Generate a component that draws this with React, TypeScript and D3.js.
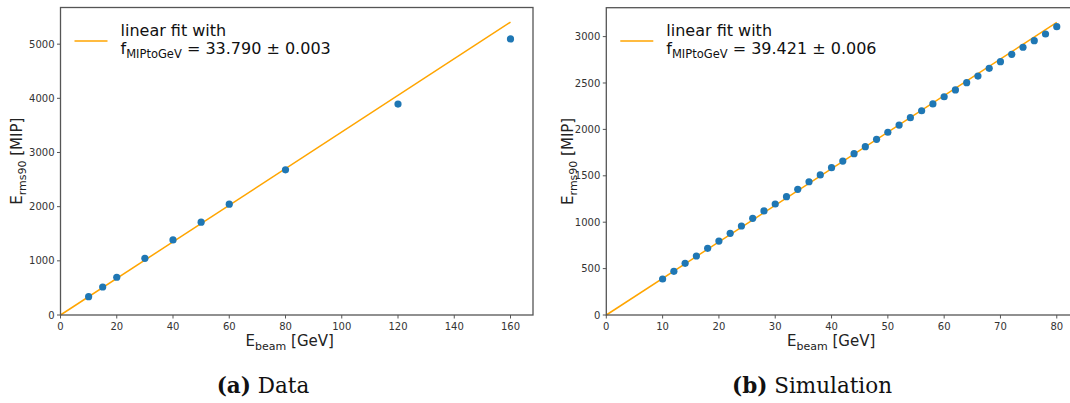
import React from "react";
import * as d3 from "d3";

const dataE = [10, 15, 20, 30, 40, 50, 60, 80, 120, 160];
const dataMIP = [338, 517, 697, 1046, 1386, 1713, 2046, 2680, 3894, 5096];
const dataSlope = 33.79;
const dataXTicks = [0, 20, 40, 60, 80, 100, 120, 140, 160];
const dataYTicks = [0, 1000, 2000, 3000, 4000, 5000];

const simE = [10, 12, 14, 16, 18, 20, 22, 24, 26, 28, 30, 32, 34, 36, 38, 40, 42, 44, 46, 48, 50, 52, 54, 56, 58, 60, 62, 64, 66, 68, 70, 72, 74, 76, 78, 80];
const simMIP = [388, 471, 557, 636, 718, 797, 880, 959, 1042, 1121, 1196, 1275, 1354, 1436, 1509, 1587, 1659, 1738, 1814, 1893, 1969, 2047, 2126, 2201, 2274, 2352, 2425, 2503, 2575, 2658, 2730, 2809, 2885, 2956, 3028, 3107];
const simSlope = 39.421;
const simXTicks = [0, 10, 20, 30, 40, 50, 60, 70, 80];
const simYTicks = [0, 500, 1000, 1500, 2000, 2500, 3000];

const FONT = "'DejaVu Sans', sans-serif";

type PanelProps = {
  left: number; right: number; top: number; bottom: number;
  xs: number[]; ys: number[]; slope: number; xMax: number;
  xTicks: number[]; yTicks: number[]; fitText: string;
  yLabelX: number; caption: string; captionBold: string; captionX: number;
};

function Panel(p: PanelProps) {
  const fitMax = p.slope * p.xs[p.xs.length - 1];
  const x = d3.scaleLinear().domain([0, p.xMax * 1.05]).range([p.left, p.right]);
  const y = d3.scaleLinear().domain([0, fitMax * 1.05]).range([p.bottom, p.top]);
  const line = d3.line<number>().x((d) => x(d)).y((d) => y(d * p.slope));
  const cy = (p.top + p.bottom) / 2;
  const spine = "#555";
  return (
    <g>
      <path d={line([0, p.xs[p.xs.length - 1]]) || ""} stroke="#ffa500" strokeWidth={1.5} fill="none" />
      {p.xs.map((v, i) => (
        <circle key={i} cx={x(v)} cy={y(p.ys[i])} r={3.6} fill="#1f77b4" />
      ))}
      <rect x={p.left} y={p.top} width={p.right - p.left} height={p.bottom - p.top} fill="none" stroke={spine} strokeWidth={1.3} />
      {p.xTicks.map((t) => (
        <g key={"x" + t}>
          <line x1={x(t)} x2={x(t)} y1={p.bottom} y2={p.bottom + 3.5} stroke={spine} strokeWidth={1} />
          <text x={x(t)} y={p.bottom + 15} fontSize={10} fill="#333" textAnchor="middle" fontFamily={FONT}>{t}</text>
        </g>
      ))}
      {p.yTicks.map((t) => (
        <g key={"y" + t}>
          <line x1={p.left - 3.5} x2={p.left} y1={y(t)} y2={y(t)} stroke={spine} strokeWidth={1} />
          <text x={p.left - 6} y={y(t) + 3.6} fontSize={10} fill="#333" textAnchor="end" fontFamily={FONT}>{t}</text>
        </g>
      ))}
      <text x={(p.left + Math.min(p.right, 1070)) / 2 - 7} y={346} fontSize={15} fill="#222" textAnchor="middle" fontFamily={FONT}>
        E<tspan fontSize={11} dy={4}>beam</tspan><tspan dy={-4}> [GeV]</tspan>
      </text>
      <text transform={`translate(${p.yLabelX},${cy}) rotate(-90)`} fontSize={15} fill="#222" textAnchor="middle" fontFamily={FONT}>
        E<tspan fontSize={11} dy={4}>rms90</tspan><tspan dy={-4}> [MIP]</tspan>
      </text>
      <line x1={p.left + 14} x2={p.left + 47} y1={41} y2={41} stroke="#ffa500" strokeWidth={1.5} />
      <text x={p.left + 60} y={36} fontSize={16} fill="#111" fontFamily={FONT}>linear fit with</text>
      <text x={p.left + 60} y={54} fontSize={16} fill="#111" fontFamily={FONT}>
        f<tspan fontSize={11.5} dy={4}>MIPtoGeV</tspan><tspan dy={-4}>{" = " + p.fitText}</tspan>
      </text>
      <text x={p.captionX} y={393} fontSize={21.5} fill="#111" textAnchor="middle" fontFamily="'DejaVu Serif', serif">
        <tspan fontWeight="bold">{p.captionBold}</tspan>{" " + p.caption}
      </text>
    </g>
  );
}

export default function App() {
  return (
    <svg width={1070} height={403} style={{ position: "absolute", left: 0, top: 0, background: "#fff" }}>
      <rect x={0} y={0} width={1070} height={403} fill="#fff" />
      <Panel left={60.5} right={533} top={7.5} bottom={315} xs={dataE} ys={dataMIP} slope={dataSlope} xMax={160}
        xTicks={dataXTicks} yTicks={dataYTicks} fitText="33.790 ± 0.003" yLabelX={22} caption="Data" captionBold="(a)" captionX={263} />
      <Panel left={606.3} right={1079.3} top={7.7} bottom={315} xs={simE} ys={simMIP} slope={simSlope} xMax={80}
        xTicks={simXTicks} yTicks={simYTicks} fitText="39.421 ± 0.006" yLabelX={573} caption="Simulation" captionBold="(b)" captionX={812} />
    </svg>
  );
}
